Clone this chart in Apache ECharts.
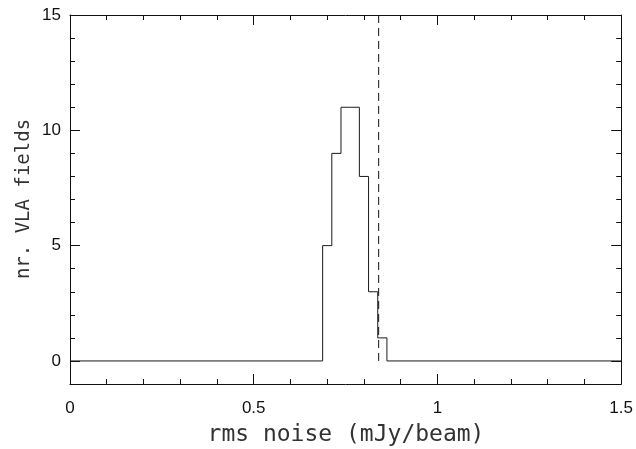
<!DOCTYPE html>
<html>
<head>
<meta charset="utf-8">
<script src="https://cdn.jsdelivr.net/npm/echarts@6/dist/echarts.min.js"></script>
<style>
html,body{margin:0;padding:0;background:#fff;}
#chart{width:636px;height:449px;}
</style>
</head>
<body>
<div id="chart"></div>
<script>
// ---- data ----
const binEdges = [0.6875, 0.7125, 0.7375, 0.7625, 0.7875, 0.8125, 0.8375, 0.8625];
const counts = [5, 9, 11, 11, 8, 3, 1];
const xRange = [0, 1.5];
const yRange = [-1, 15];
const refLineX = 0.84;
const refLineY = [0, 15];
const xTicks = [0, 0.5, 1, 1.5];
const yTicks = [0, 5, 10, 15];
const xTitle = 'rms noise (mJy/beam)';
const yTitle = 'nr. VLA fields';

// build step outline of the histogram (zero baseline across the whole axis)
const stepPts = [[xRange[0], 0]];
for (let i = 0; i < counts.length; i++) {
  const prev = i === 0 ? 0 : counts[i - 1];
  stepPts.push([binEdges[i], prev]);
  stepPts.push([binEdges[i], counts[i]]);
}
stepPts.push([binEdges[binEdges.length - 1], counts[counts.length - 1]]);
stepPts.push([binEdges[binEdges.length - 1], 0]);
stepPts.push([xRange[1], 0]);

const refPts = [[refLineX, refLineY[0]], [refLineX, refLineY[1]]];

const labelFont = {fontFamily: 'Liberation Sans', fontSize: 17, color: '#111'};
const lineCol = '#111';

function xAx(pos, showLabel) {
  return {
    type: 'value', position: pos, min: xRange[0], max: xRange[1], interval: 0.5,
    axisLine: {show: true, onZero: false, lineStyle: {color: lineCol, width: 1}},
    axisTick: {show: true, inside: true, length: 10, lineStyle: {color: lineCol}},
    minorTick: {show: true, splitNumber: 5, length: 5, lineStyle: {color: lineCol}},
    splitLine: {show: false},
    axisLabel: Object.assign({show: showLabel, margin: 16,
      formatter: v => String(v), customValues: xTicks}, labelFont)
  };
}
function yMinor(pos) {
  return {
    type: 'value', position: pos, min: yRange[0], max: yRange[1], interval: 1,
    axisLine: {show: true, onZero: false, lineStyle: {color: lineCol, width: 1}},
    axisTick: {show: true, inside: true, length: 5, lineStyle: {color: lineCol}},
    splitLine: {show: false},
    axisLabel: {show: false}
  };
}
function yMajor(pos, showLabel) {
  return {
    type: 'value', position: pos, min: yRange[0], max: yRange[1], interval: 1,
    axisLine: {show: false, onZero: false},
    axisTick: {show: true, inside: true, length: 10, customValues: yTicks, lineStyle: {color: lineCol}},
    splitLine: {show: false},
    axisLabel: Object.assign({show: showLabel, margin: 9, customValues: yTicks}, labelFont)
  };
}

const chart = echarts.init(document.getElementById('chart'), null, {renderer: 'canvas'});
chart.setOption({
  animation: false,
  backgroundColor: '#fff',
  grid: {left: 70, right: 10, top: 15, bottom: 65, containLabel: false},
  xAxis: [xAx('bottom', true), xAx('top', false)],
  yAxis: [yMinor('left'), yMajor('left', true), yMinor('right'), yMajor('right', false)],
  graphic: [
    {type: 'text', x: 346, y: 435, silent: true,
     style: {text: xTitle, fontFamily: 'DejaVu Sans Mono', fontSize: 23, fill: '#333',
             align: 'center', verticalAlign: 'middle'}},
    {type: 'text', x: 24, y: 199, rotation: Math.PI / 2, silent: true,
     style: {text: yTitle, fontFamily: 'DejaVu Sans Mono', fontSize: 19, fill: '#333',
             align: 'center', verticalAlign: 'middle'}}
  ],
  series: [
    {type: 'line', xAxisIndex: 0, yAxisIndex: 0, data: stepPts, showSymbol: false,
     lineStyle: {color: '#1a1a1a', width: 1}, silent: true},
    {type: 'line', xAxisIndex: 0, yAxisIndex: 0, data: refPts, showSymbol: false,
     lineStyle: {color: '#111', width: 1, type: [8, 5]}, silent: true}
  ]
});
</script>
</body>
</html>
